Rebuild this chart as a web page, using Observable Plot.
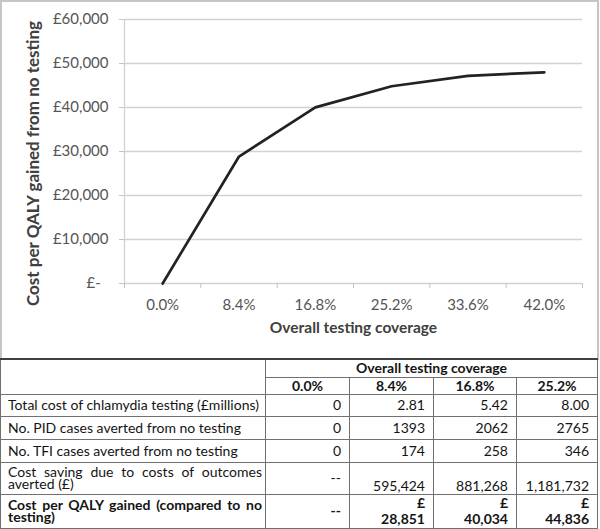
<!DOCTYPE html>
<html>
<head>
<meta charset="utf-8">
<script src="https://cdn.jsdelivr.net/npm/d3@7"></script>
<script src="https://cdn.jsdelivr.net/npm/@observablehq/plot@0.6"></script>
<style>
  html, body { margin: 0; padding: 0; background: #fff; overflow: hidden; }
  #chart { position: absolute; left: 0; top: 0; width: 600px; height: 358px; }
  #frame { position: absolute; left: 0; top: 0; width: 599px; height: 360px; border: 2px solid #c6c6c6; box-sizing: border-box; }
  table { position: absolute; left: 0; top: 358px; width: 598px; border-collapse: collapse; table-layout: fixed;
          font-family: Lato, sans-serif; font-size: 14px; color: #141414; background: #fff; }
  td { border: 1px solid #707070; padding: 0 8px; line-height: 16px; overflow: hidden; white-space: normal; }
  tr.top td { border-top: 2px solid #404040; }
  td.lab { text-align: justify; padding-left: 7px; padding-right: 3px; }
  td.lab2 { line-height: 12.5px; }
  td.num { text-align: right; vertical-align: bottom; padding-bottom: 0; }
  td.num2 { line-height: 16px; padding-bottom: 1px; }
  td.mid { vertical-align: middle; }
  .b { font-weight: bold; }
  td.hd { text-align: center; font-weight: bold; }
</style>
</head>
<body>
<div id="chart"></div>
<div id="frame"></div>
<table id="tbl"></table>
<script>
// ---- chart data ----
const coverage = ["0.0%", "8.4%", "16.8%", "25.2%", "33.6%", "42.0%"];
const costPerQaly = [0, 28851, 40034, 44836, 47200, 48000];
const yTicks = [0, 10000, 20000, 30000, 40000, 50000, 60000];
const yTitle = "Cost per QALY gained from no testing";
const xTitle = "Overall testing coverage";

// ---- table data ----
const tableHeader = "Overall testing coverage";
const tableCols = ["0.0%", "8.4%", "16.8%", "25.2%"];
const rowLabels = [
  "Total cost of chlamydia testing (£millions)",
  "No. PID cases averted from no testing",
  "No. TFI cases averted from no testing",
  "Cost saving due to costs of outcomes averted (£)",
  "Cost per QALY gained (compared to no testing)"
];
const totalCost = ["0", "2.81", "5.42", "8.00"];
const pidAverted = ["0", "1393", "2062", "2765"];
const tfiAverted = ["0", "174", "258", "346"];
const costSaving = ["--", "595,424", "881,268", "1,181,732"];
const costPerQalyTable = ["--", "28,851", "40,034", "44,836"];

const data = coverage.map((c, i) => ({ i: i + 0.5, label: c, v: costPerQaly[i] }));
const fmt = d => d === 0 ? "£-\u00a0\u00a0" : "£" + d3.format(",")(d);

const chart = Plot.plot({
  width: 600, height: 358,
  marginLeft: 124, marginRight: 18, marginTop: 19, marginBottom: 75,
  style: { fontFamily: "Lato, sans-serif", fontSize: "14px", background: "transparent", overflow: "visible" },
  x: { domain: [0, coverage.length], axis: null },
  y: { domain: [0, 60000], axis: null },
  marks: [
    Plot.ruleY(yTicks, { x1: 0, x2: coverage.length, stroke: "#d2d2d2", strokeWidth: 1.3 }),
    Plot.ruleX([0], { y1: 0, y2: 60000, stroke: "#d2d2d2", strokeWidth: 1.3 }),
    Plot.axisY({ ticks: yTicks, tickSize: 5, tickPadding: 11, tickFormat: fmt, stroke: "#c4c4c4", fill: "#555", fontSize: 15, label: null }),
    Plot.axisX({ ticks: d3.range(coverage.length + 1), tickSize: 5, tickFormat: () => "", stroke: "#c4c4c4", label: null }),
    Plot.text(data, { x: "i", y: 0, dy: 22, text: "label", fill: "#555", fontSize: 15 }),
    Plot.line(data, { x: "i", y: "v", stroke: "#222", strokeWidth: 2.7 }),
    Plot.text([xTitle], { x: coverage.length / 2, y: 0, dy: 45, fontWeight: "bold", fill: "#404040", fontSize: 15.5 }),
    Plot.text([yTitle], { frameAnchor: "left", textAnchor: "middle", dx: -91, dy: 12, rotate: -90, fontWeight: "bold", fill: "#404040", fontSize: 17 })
  ]
});
document.getElementById("chart").appendChild(chart);

// ---- table ----
const tbl = document.getElementById("tbl");
const widths = [265, 84, 84, 83, 81];
let html = "<colgroup>" + widths.map(w => `<col style="width:${w}px">`).join("") + "</colgroup>";
html += `<tr class="top" style="height:18px"><td rowspan="2"></td><td class="hd" colspan="${tableCols.length}">${tableHeader}</td></tr>`;
html += `<tr style="height:16px">` + tableCols.map(c => `<td class="hd">${c}</td>`).join("") + "</tr>";
const simpleRows = [totalCost, pidAverted, tfiAverted];
const simpleH = [22, 23, 23];
simpleRows.forEach((r, k) => {
  html += `<tr style="height:${simpleH[k]}px"><td class="lab">${rowLabels[k]}</td>` +
    r.map(v => `<td class="num" style="vertical-align:middle">${v}</td>`).join("") + "</tr>";
});
html += `<tr style="height:32px"><td class="lab lab2">${rowLabels[3]}</td>` +
  costSaving.map(v => v === "--" ? `<td class="num mid">${v}</td>` : `<td class="num" style="line-height:14px;padding-bottom:1px">${v}</td>`).join("") + "</tr>";
html += `<tr style="height:34px"><td class="lab lab2 b">${rowLabels[4]}</td>` +
  costPerQalyTable.map(v => v === "--" ? `<td class="num mid b">${v}</td>` : `<td class="num num2 b">£<br>${v}</td>`).join("") + "</tr>";
tbl.innerHTML = html;
</script>
</body>
</html>
